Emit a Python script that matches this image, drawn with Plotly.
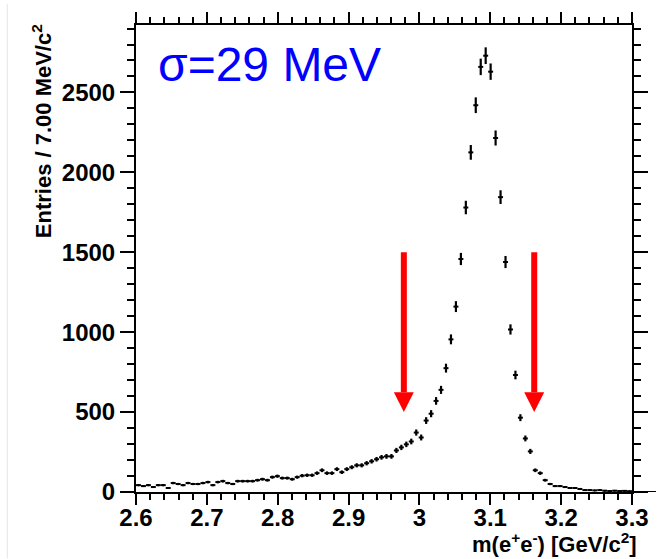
import numpy as np
import plotly.graph_objects as go

# ---- histogram of the e+e- invariant mass (7 MeV bins from 2.6 to 3.3 GeV) ----
bin_width = 0.007
mass_lo, mass_hi = 2.6, 3.3
counts = [
    43, 37, 43, 31, 43, 43, 25, 56, 50, 43,
    56, 50, 50, 56, 62, 43, 62, 68, 56, 50,
    68, 68, 68, 68, 74, 80, 74, 93, 99, 87,
    87, 80, 93, 102, 105, 105, 118, 136, 118, 118,
    143, 124, 143, 155, 167, 167, 180, 192, 205, 217,
    223, 223, 260, 279, 298, 316, 372, 341, 447, 490,
    570, 639, 775, 955, 1160, 1458, 1780, 2125, 2420, 2660,
    2730, 2630, 2215, 1845, 1439, 1017, 732, 465, 335, 254,
    136, 118, 74, 50, 37, 37, 31, 25, 25, 19,
    12, 12, 10, 12, 8, 6, 8, 6, 7, 5,
]
bin_centers = mass_lo + bin_width * (np.arange(len(counts)) + 0.5)
stat_errors = np.sqrt(counts)

# signal-window cut positions and the arrow extent (entries)
cut_values = [2.978, 3.162]
arrow_top, arrow_tip = 1500, 500

x_tick_values = [2.6, 2.7, 2.8, 2.9, 3.0, 3.1, 3.2, 3.3]
x_tick_labels = ["2.6", "2.7", "2.8", "2.9", "3", "3.1", "3.2", "3.3"]
y_tick_values = [0, 500, 1000, 1500, 2000, 2500]
y_tick_labels = ["0", "500", "1000", "1500", "2000", "2500"]
y_max = 2922

# ---- page geometry ----
W, H = 661, 559
ML, MR, MT, MB = 136, 28, 21, 67
plot_w = W - ML - MR
plot_h = H - MT - MB
px_per_x = plot_w / (mass_hi - mass_lo)
px_per_y = plot_h / y_max

FONT = "Liberation Sans, Arial, Helvetica, sans-serif"


def paper_x(px):
    return (px - ML) / plot_w


def paper_y(py):
    return (H - MB - py) / plot_h


fig = go.Figure()
fig.add_trace(go.Scatter(
    x=bin_centers, y=counts, mode="markers",
    marker=dict(size=2, color="black"),
    error_x=dict(type="constant", value=bin_width / 2, thickness=2, width=0, color="black"),
    error_y=dict(type="data", array=stat_errors, thickness=2.2, width=0, color="black"),
    showlegend=False, hoverinfo="x+y",
))

# red arrows marking the mass window
shapes = []
head_half = 10 / px_per_x
head_len = 20 / px_per_y
for xc in cut_values:
    shapes.append(dict(type="line", xref="x", yref="y",
                       x0=xc, x1=xc, y0=arrow_top, y1=arrow_tip + head_len,
                       line=dict(color="#ff0000", width=6)))
    shapes.append(dict(type="path", xref="x", yref="y",
                       path=(f"M {xc - head_half},{arrow_tip + head_len} "
                             f"L {xc + head_half},{arrow_tip + head_len} "
                             f"L {xc},{arrow_tip} Z"),
                       fillcolor="#ff0000", line=dict(width=0)))

# baseline running past the right edge of the frame
shapes.append(dict(type="line", xref="paper", yref="y",
                   x0=1.0, x1=paper_x(657), y0=0, y1=0,
                   line=dict(color="black", width=2)))
# faint panel border on the left
shapes.append(dict(type="line", xref="paper", yref="paper",
                   x0=paper_x(7), x1=paper_x(7), y0=paper_y(0), y1=paper_y(H),
                   line=dict(color="#e4e4e4", width=1)))

annotations = [
    dict(text="σ=29 MeV", xref="paper", yref="paper",
         x=paper_x(156), y=paper_y(61), xanchor="left", yanchor="middle",
         showarrow=False, font=dict(family=FONT, size=48, color="#0000ff")),
    dict(text="<b>Entries / 7.00 MeV/c<sup>2</sup></b>", xref="paper", yref="paper",
         x=paper_x(42), y=paper_y(18), xanchor="center", yanchor="top",
         textangle=-90, showarrow=False,
         font=dict(family=FONT, size=22, color="black")),
    dict(text="<b>m(e<sup>+</sup>e<sup>-</sup>) [GeV/c<sup>2</sup>]</b>",
         xref="paper", yref="paper",
         x=paper_x(640), y=paper_y(543), xanchor="right", yanchor="middle",
         showarrow=False, font=dict(family=FONT, size=22, color="black")),
]

axis_common = dict(
    showgrid=False, zeroline=False,
    showline=True, linecolor="black", linewidth=2, mirror="ticks",
    ticks="outside", tickcolor="black", tickwidth=2,
    tickfont=dict(family=FONT, size=24, color="black", weight="bold"),
)

fig.update_layout(
    width=W, height=H,
    margin=dict(l=ML, r=MR, t=MT, b=MB, pad=0),
    paper_bgcolor="white", plot_bgcolor="white",
    shapes=shapes, annotations=annotations,
    xaxis=dict(range=[mass_lo, mass_hi], tickmode="array",
               tickvals=x_tick_values, ticktext=x_tick_labels, ticklen=11,
               ticklabelstandoff=-8,
               minor=dict(ticks="outside", tick0=mass_lo, dtick=0.02, ticklen=6,
                          tickwidth=2, tickcolor="black"),
               **axis_common),
    yaxis=dict(range=[0, y_max], tickmode="array",
               tickvals=y_tick_values, ticktext=y_tick_labels, ticklen=14,
               minor=dict(ticks="outside", tick0=0, dtick=100, ticklen=7,
                          tickwidth=2, tickcolor="black"),
               **axis_common),
)

fig.write_html("out.html")
